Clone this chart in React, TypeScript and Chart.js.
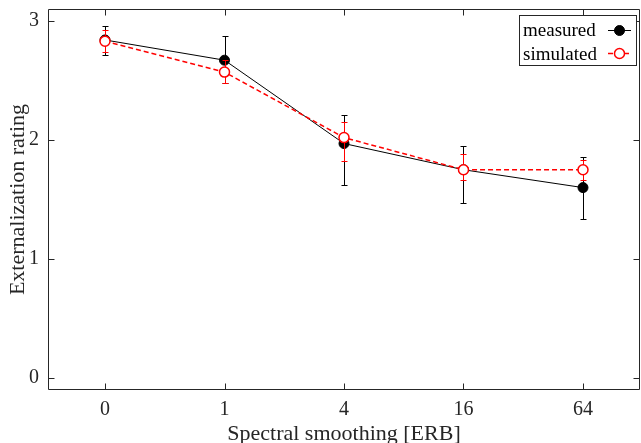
import React, { useEffect, useRef } from "react";
import { Chart, registerables } from "chart.js";

Chart.register(...registerables);

// ---- data ----
const categories = ["0", "1", "4", "16", "64"];
const yTickValues = [0, 1, 2, 3];
const seriesNames = ["measured", "simulated"];

const measured = [2.84, 2.67, 1.97, 1.75, 1.6];
const measuredLow = [2.71, 2.48, 1.62, 1.47, 1.34];
const measuredHigh = [2.96, 2.87, 2.21, 1.95, 1.86];

const simulated = [2.83, 2.57, 2.02, 1.75, 1.75];
const simulatedLow = [2.74, 2.48, 1.82, 1.66, 1.66];
const simulatedHigh = [2.92, 2.67, 2.15, 1.88, 1.83];

const xTitle = "Spectral smoothing [ERB]";
const yTitle = "Externalization rating";

const FONT = "Liberation Serif";
const AXIS_COLOR = "#262626";
const RED = "#ff0000";

const errors = [
  [measuredLow, measuredHigh],
  [simulatedLow, simulatedHigh],
];

const errorBarPlugin = {
  id: "errorBars",
  beforeDatasetDraw(chart: any, args: any) {
    const err = errors[args.index];
    if (!err) return;
    const ds = chart.data.datasets[args.index];
    const xs = chart.scales.x;
    const ys = chart.scales.y;
    const c = chart.ctx;
    c.save();
    c.strokeStyle = ds.borderColor;
    c.lineWidth = 1;
    c.setLineDash([]);
    const cap = 3;
    err[0].forEach((lo: number, i: number) => {
      const px = Math.round(xs.getPixelForValue(i)) + 0.5;
      const pl = Math.round(ys.getPixelForValue(lo)) + 0.5;
      const ph = Math.round(ys.getPixelForValue(err[1][i])) + 0.5;
      c.beginPath();
      c.moveTo(px, pl);
      c.lineTo(px, ph);
      c.moveTo(px - cap, pl);
      c.lineTo(px + cap, pl);
      c.moveTo(px - cap, ph);
      c.lineTo(px + cap, ph);
      c.stroke();
    });
    c.restore();
  },
};

const framePlugin = {
  id: "frame",
  afterDraw(chart: any) {
    const c = chart.ctx;
    const a = chart.chartArea;
    const xs = chart.scales.x;
    const ys = chart.scales.y;
    const L = Math.round(a.left) + 0.5;
    const R = Math.round(a.right) - 0.5;
    const T = Math.round(a.top) + 0.5;
    const B = Math.round(a.bottom) - 0.5;
    const tl = 6;
    c.save();
    c.strokeStyle = AXIS_COLOR;
    c.lineWidth = 1;
    c.setLineDash([]);
    c.beginPath();
    c.rect(L, T, R - L, B - T);
    xs.ticks.forEach((t: any) => {
      const px = Math.round(xs.getPixelForValue(t.value)) + 0.5;
      c.moveTo(px, B);
      c.lineTo(px, B - tl);
      c.moveTo(px, T);
      c.lineTo(px, T + tl);
    });
    ys.ticks.forEach((t: any) => {
      const py = Math.round(ys.getPixelForValue(t.value)) + 0.5;
      c.moveTo(L, py);
      c.lineTo(L + tl, py);
      c.moveTo(R, py);
      c.lineTo(R - tl, py);
    });
    c.stroke();

    // legend
    const bx = 519.5, by = 15.5, bw = 117, bh = 50;
    c.fillStyle = "#ffffff";
    c.fillRect(bx, by, bw, bh);
    c.strokeStyle = AXIS_COLOR;
    c.strokeRect(bx, by, bw, bh);
    c.font = `19px "${FONT}"`;
    c.fillStyle = "#000000";
    c.textBaseline = "alphabetic";
    c.textAlign = "left";
    const rows = [36, 59.5];
    const markY = [30.5, 53.5];
    seriesNames.forEach((name, i) => {
      c.fillText(name, 523, rows[i]);
      const ds = chart.data.datasets[i];
      c.beginPath();
      c.strokeStyle = ds.borderColor;
      c.lineWidth = ds.borderWidth;
      c.setLineDash(ds.borderDash || []);
      c.moveTo(608, markY[i]);
      c.lineTo(631, markY[i]);
      c.stroke();
      c.setLineDash([]);
      c.beginPath();
      c.arc(619.5, markY[i], ds.pointRadius, 0, Math.PI * 2);
      c.fillStyle = ds.pointBackgroundColor;
      c.fill();
      c.lineWidth = ds.pointBorderWidth;
      c.strokeStyle = ds.pointBorderColor;
      c.stroke();
      c.fillStyle = "#000000";
    });
    c.restore();
  },
};

export default function App() {
  const ref = useRef<HTMLCanvasElement>(null);
  useEffect(() => {
    document.body.style.margin = "0";
    const canvas = ref.current!;
    const chart = new Chart(canvas, {
      type: "line",
      data: {
        datasets: [
          {
            label: seriesNames[0],
            data: measured.map((v, i) => ({ x: i, y: v })),
            borderColor: "#000000",
            borderWidth: 1,
            pointRadius: 5,
            pointBackgroundColor: "#000000",
            pointBorderColor: "#000000",
            pointBorderWidth: 1,
            order: 2,
          } as any,
          {
            label: seriesNames[1],
            data: simulated.map((v, i) => ({ x: i, y: v })),
            borderColor: RED,
            borderWidth: 1.5,
            borderDash: [5, 3],
            pointRadius: 5,
            pointBackgroundColor: "#ffffff",
            pointBorderColor: RED,
            pointBorderWidth: 1.5,
            order: 1,
          } as any,
        ],
      },
      options: {
        responsive: false,
        animation: false,
        events: [],
        layout: { autoPadding: false, padding: { top: 9, right: 1, left: 0, bottom: 0 } },
        plugins: {
          legend: { display: false },
          tooltip: { enabled: false },
        },
        scales: {
          x: {
            type: "linear",
            position: "bottom",
            min: -0.477,
            max: 4.477,
            grid: { display: false, drawTicks: false, tickLength: 0 },
            border: { display: false },
            ticks: {
              padding: 8,
              color: AXIS_COLOR,
              font: { family: FONT, size: 20, lineHeight: 1.2 },
              callback: (v: any) => categories[v as number] ?? "",
            },
            title: {
              display: true,
              text: xTitle,
              color: AXIS_COLOR,
              font: { family: FONT, size: 22, lineHeight: 0.76 },
              padding: { top: 0, bottom: 0 },
            },
            afterBuildTicks: (s: any) => {
              s.ticks = categories.map((_, i) => ({ value: i }));
            },
            afterFit: (s: any) => {
              s.height = 53;
              s.paddingLeft = 0;
              s.paddingRight = 0;
              s.paddingTop = 0;
              s.paddingBottom = 0;
            },
          } as any,
          y: {
            type: "linear",
            position: "left",
            min: -0.1,
            max: 3.1,
            grid: { display: false, drawTicks: false, tickLength: 0 },
            border: { display: false },
            ticks: {
              padding: 9,
              color: AXIS_COLOR,
              font: { family: FONT, size: 20, lineHeight: 1.2 },
              callback: (v: any) => String(v),
            },
            title: {
              display: true,
              text: yTitle,
              color: AXIS_COLOR,
              font: { family: FONT, size: 22, lineHeight: 0.76 },
              padding: { top: 10, bottom: 0 },
            },
            afterBuildTicks: (s: any) => {
              s.ticks = yTickValues.map((v) => ({ value: v }));
            },
            afterFit: (s: any) => {
              s.width = 48;
              s.paddingLeft = 0;
              s.paddingRight = 0;
              s.paddingTop = 0;
              s.paddingBottom = 0;
            },
          } as any,
        },
      },
      plugins: [errorBarPlugin, framePlugin],
    });
    return () => chart.destroy();
  }, []);
  return (
    <div style={{ width: 641, height: 443 }}>
      <canvas ref={ref} width={641} height={443} style={{ display: "block" }} />
    </div>
  );
}
